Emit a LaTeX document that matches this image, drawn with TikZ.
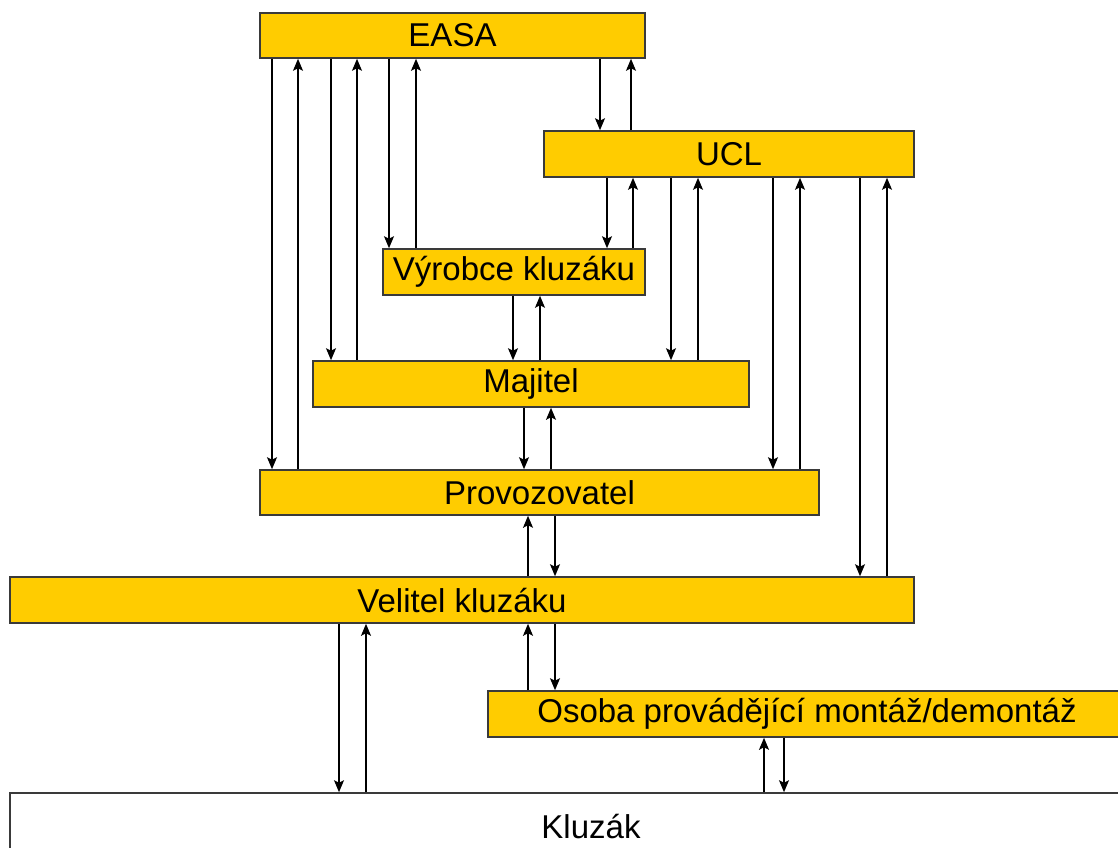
\documentclass[tikz,border=0pt]{standalone}
\usepackage{fontspec}
\setmainfont{Liberation Sans}
\usetikzlibrary{arrows.meta}

\definecolor{boxfill}{HTML}{FFCC00}
\definecolor{boxline}{HTML}{3A3A3A}

\begin{document}
\begin{tikzpicture}[
  x=1pt, y=-1pt,
  boxnode/.style={rectangle, draw=boxline, fill=boxfill, line width=1.6pt, inner sep=0pt, font=\fontsize{33}{38}\selectfont},
  groundnode/.style={rectangle, draw=boxline, fill=white, line width=1.6pt, inner sep=0pt, font=\fontsize{33}{38}\selectfont},
  arr/.style={-{Stealth[length=12pt,width=10pt,inset=2.5pt]}, line width=1.4pt, black},
]
\useasboundingbox (0,0) rectangle (1118,847);
\clip (0,0) rectangle (1118,847);

\node[boxnode, minimum width=385, minimum height=45] (easa) at (452.5,35.5) {EASA};
\node[boxnode, minimum width=370, minimum height=46] (ucl) at (729,154) {UCL};
\node[boxnode, minimum width=262, minimum height=46] (vyrobce) at (514,272) {Výrobce kluzáku};
\node[boxnode, minimum width=436, minimum height=46] (majitel) at (531,384) {Majitel};
\node[boxnode, minimum width=559, minimum height=45] (provoz) at (539.5,492.5) {Provozovatel};
\node[boxnode, minimum width=904, minimum height=46] (velitel) at (462,600) {Velitel kluzáku};
\node[boxnode, minimum width=638, minimum height=46] (osoba) at (807,714) {Osoba provádějící montáž/demontáž};
\node[groundnode, minimum width=1162, minimum height=66] (kluzak) at (591,826) {Kluzák};

% EASA
\draw[arr] (easa.south -| 272,0) -- (provoz.north -| 272,0);
\draw[arr] (provoz.north -| 298,0) -- (easa.south -| 298,0);
\draw[arr] (easa.south -| 331,0) -- (majitel.north -| 331,0);
\draw[arr] (majitel.north -| 357,0) -- (easa.south -| 357,0);
\draw[arr] (easa.south -| 389,0) -- (vyrobce.north -| 389,0);
\draw[arr] (vyrobce.north -| 416,0) -- (easa.south -| 416,0);
\draw[arr] (easa.south -| 600,0) -- (ucl.north -| 600,0);
\draw[arr] (ucl.north -| 631,0) -- (easa.south -| 631,0);

% UCL
\draw[arr] (ucl.south -| 607,0) -- (vyrobce.north -| 607,0);
\draw[arr] (vyrobce.north -| 633,0) -- (ucl.south -| 633,0);
\draw[arr] (ucl.south -| 671,0) -- (majitel.north -| 671,0);
\draw[arr] (majitel.north -| 698,0) -- (ucl.south -| 698,0);
\draw[arr] (ucl.south -| 773,0) -- (provoz.north -| 773,0);
\draw[arr] (provoz.north -| 800,0) -- (ucl.south -| 800,0);
\draw[arr] (ucl.south -| 860,0) -- (velitel.north -| 860,0);
\draw[arr] (velitel.north -| 887,0) -- (ucl.south -| 887,0);

% chain
\draw[arr] (vyrobce.south -| 513,0) -- (majitel.north -| 513,0);
\draw[arr] (majitel.north -| 540,0) -- (vyrobce.south -| 540,0);
\draw[arr] (majitel.south -| 524,0) -- (provoz.north -| 524,0);
\draw[arr] (provoz.north -| 551,0) -- (majitel.south -| 551,0);
\draw[arr] (velitel.north -| 528,0) -- (provoz.south -| 528,0);
\draw[arr] (provoz.south -| 555,0) -- (velitel.north -| 555,0);
\draw[arr] (osoba.north -| 528,0) -- (velitel.south -| 528,0);
\draw[arr] (velitel.south -| 555,0) -- (osoba.north -| 555,0);

% Kluzak
\draw[arr] (velitel.south -| 339,0) -- (kluzak.north -| 339,0);
\draw[arr] (kluzak.north -| 366,0) -- (velitel.south -| 366,0);
\draw[arr] (kluzak.north -| 764,0) -- (osoba.south -| 764,0);
\draw[arr] (osoba.south -| 784,0) -- (kluzak.north -| 784,0);

\end{tikzpicture}
\end{document}
